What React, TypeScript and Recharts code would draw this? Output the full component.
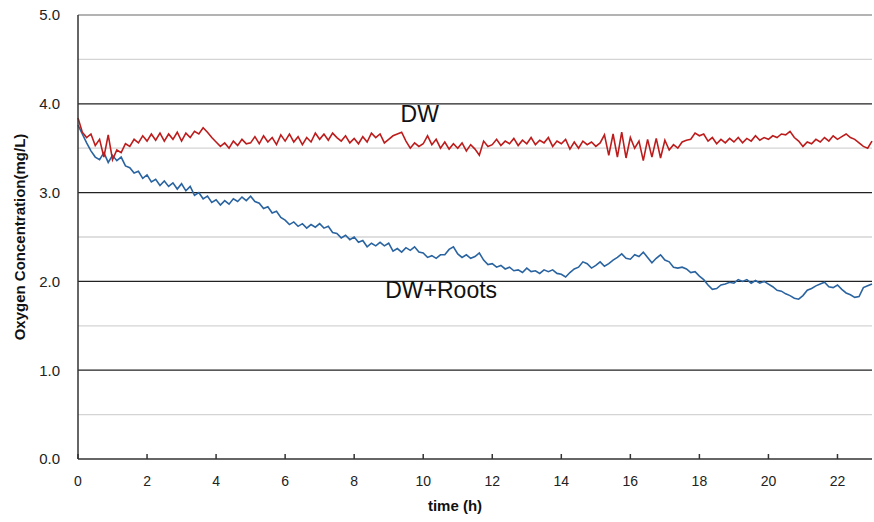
import { LineChart, Line, XAxis, YAxis, CartesianGrid, ReferenceDot, ReferenceLine, Label } from "recharts"

const STEP_H = 0.125

const DW = [
  3.84, 3.68, 3.62, 3.66, 3.53, 3.6, 3.4, 3.65,
  3.37, 3.48, 3.45, 3.55, 3.52, 3.6, 3.56, 3.64,
  3.58, 3.66, 3.59, 3.67, 3.58, 3.66, 3.6, 3.68,
  3.58, 3.67, 3.62, 3.69, 3.66, 3.73, 3.68, 3.62,
  3.57, 3.52, 3.56, 3.5, 3.58, 3.53, 3.6, 3.55,
  3.56, 3.63, 3.55, 3.64, 3.57, 3.62, 3.54, 3.65,
  3.58, 3.66, 3.57, 3.63, 3.54, 3.62, 3.57, 3.67,
  3.6, 3.66, 3.59, 3.67, 3.62, 3.58, 3.64, 3.56,
  3.61, 3.55, 3.63, 3.57, 3.67, 3.62, 3.66, 3.56,
  3.6, 3.64, 3.66, 3.68, 3.58, 3.5, 3.56, 3.52,
  3.55, 3.64, 3.54, 3.6, 3.5, 3.57, 3.49, 3.55,
  3.5, 3.56, 3.47, 3.54, 3.49, 3.42, 3.58, 3.52,
  3.54, 3.6, 3.53, 3.58, 3.55, 3.61, 3.53, 3.59,
  3.55, 3.62, 3.54, 3.59, 3.56, 3.62, 3.52, 3.58,
  3.55, 3.6, 3.49, 3.57, 3.5, 3.58, 3.54, 3.57,
  3.52, 3.56, 3.65, 3.42, 3.66, 3.4, 3.68, 3.39,
  3.62, 3.5, 3.58, 3.36, 3.6, 3.4, 3.61, 3.39,
  3.59, 3.48, 3.54, 3.5, 3.57, 3.59, 3.6, 3.67,
  3.64, 3.66, 3.58, 3.62, 3.55, 3.6, 3.56, 3.61,
  3.57, 3.62, 3.56, 3.61, 3.58, 3.64, 3.59, 3.62,
  3.6, 3.64, 3.62, 3.66, 3.65, 3.69, 3.62, 3.58,
  3.52, 3.57, 3.55, 3.6, 3.57, 3.62, 3.58, 3.64,
  3.6, 3.63, 3.66, 3.62, 3.6, 3.56, 3.52, 3.5,
  3.58,
]

const DW_ROOTS = [
  3.76, 3.66, 3.56, 3.47, 3.4, 3.37, 3.45, 3.34,
  3.42, 3.36, 3.4, 3.3, 3.28, 3.22, 3.24, 3.16,
  3.2, 3.12, 3.15, 3.08, 3.13, 3.07, 3.11, 3.04,
  3.1, 3.02, 3.07, 2.97, 3.0, 2.93, 2.96, 2.89,
  2.92, 2.86, 2.91, 2.87, 2.93, 2.9, 2.95, 2.91,
  2.96, 2.9, 2.88, 2.82, 2.84, 2.77, 2.79, 2.72,
  2.69, 2.64, 2.67, 2.62, 2.65, 2.6, 2.64, 2.61,
  2.65, 2.6, 2.62, 2.55, 2.54, 2.49, 2.52, 2.47,
  2.5, 2.44, 2.46, 2.39, 2.43, 2.4, 2.44, 2.4,
  2.43, 2.34, 2.37, 2.33, 2.38, 2.35, 2.39, 2.33,
  2.32, 2.27, 2.29, 2.26, 2.3, 2.3, 2.36, 2.39,
  2.31, 2.27, 2.3, 2.26, 2.28, 2.32, 2.24, 2.19,
  2.2, 2.16, 2.18, 2.14, 2.16, 2.12, 2.13, 2.1,
  2.15, 2.11, 2.12, 2.09, 2.13, 2.11, 2.13, 2.09,
  2.08, 2.05, 2.1, 2.14, 2.16, 2.22, 2.2, 2.15,
  2.18, 2.22, 2.17, 2.2, 2.24, 2.27, 2.31, 2.26,
  2.25, 2.3, 2.28, 2.33, 2.27, 2.21, 2.26, 2.3,
  2.24, 2.22, 2.16, 2.15, 2.16, 2.14, 2.1, 2.11,
  2.06, 2.02, 1.96, 1.91, 1.92, 1.96, 1.97, 1.99,
  1.98, 2.02, 2.0, 2.02, 1.98, 2.01, 1.98, 2.0,
  1.97, 1.94, 1.9, 1.89, 1.86, 1.84, 1.81, 1.8,
  1.84, 1.9, 1.92, 1.95, 1.97, 1.99, 1.94, 1.93,
  1.96, 1.91, 1.87, 1.85, 1.82, 1.83, 1.93, 1.95,
  1.97,
]

const X_TICKS = [0, 2, 4, 6, 8, 10, 12, 14, 16, 18, 20, 22]
const Y_TICKS = [0, 1, 2, 3, 4, 5]
const MAJOR_GRID = [1, 2, 3, 4]
const MINOR_GRID = [0.5, 1.5, 2.5, 3.5, 4.5]
const TOP_GRID = [5]

const FONT = "'Liberation Sans', Arial, sans-serif"

export default function App() {
  const data = DW.map((v, i) => ({ t: i * STEP_H, dw: v, roots: DW_ROOTS[i] }))

  return (
    <div style={{ position: "absolute", left: 0, top: 0, width: 874, height: 522, background: "#fff", fontFamily: FONT }}>
      <LineChart width={874} height={522} data={data} margin={{ top: 15, right: 2, left: 0, bottom: 8 }}>
        <CartesianGrid vertical={false} horizontalValues={TOP_GRID} stroke="#9a9a9a" strokeWidth={1.3} />
        <CartesianGrid vertical={false} horizontalValues={MAJOR_GRID} stroke="#222" strokeWidth={1.3} />
        {MINOR_GRID.map((v) => (
          <ReferenceLine key={v} y={v} stroke="#d4d4d4" strokeWidth={1.3} />
        ))}
        <XAxis
          dataKey="t"
          type="number"
          domain={[0, 23]}
          ticks={X_TICKS}
          height={55}
          stroke="#333"
          strokeWidth={1.5}
          tickSize={-5}
          tickMargin={22}
          tick={{ fill: "#222", fontSize: 14, fontFamily: FONT }}
        >
          <Label value="time (h)" position="insideBottom" offset={3} dx={-20} style={{ fontWeight: "bold", fontSize: 15, fill: "#111", fontFamily: FONT }} />
        </XAxis>
        <YAxis
          type="number"
          domain={[0, 5]}
          ticks={Y_TICKS}
          width={78}
          stroke="#333"
          strokeWidth={1.5}
          tickLine={false}
          tickSize={0}
          tickMargin={18}
          tickFormatter={(v: number) => v.toFixed(1)}
          tick={{ fill: "#222", fontSize: 15, fontFamily: FONT }}
        >
          <Label
            value="Oxygen Concentration(mg/L)"
            angle={-90}
            position="insideLeft"
            offset={20}
            style={{ textAnchor: "middle", fontWeight: "bold", fontSize: 15, fill: "#111", fontFamily: FONT }}
          />
        </YAxis>
        <Line type="linear" dataKey="roots" stroke="#2a64a0" strokeWidth={1.6} dot={false} isAnimationActive={false} />
        <Line type="linear" dataKey="dw" stroke="#bd1c1c" strokeWidth={1.6} dot={false} isAnimationActive={false} />
        <ReferenceDot x={9.9} y={3.885} r={0} fill="none" stroke="none">
          <Label value="DW" position="center" style={{ fontSize: 23, fill: "#111", fontFamily: FONT }} />
        </ReferenceDot>
        <ReferenceDot x={10.52} y={1.9} r={0} fill="none" stroke="none">
          <Label value="DW+Roots" position="center" style={{ fontSize: 23, fill: "#111", fontFamily: FONT }} />
        </ReferenceDot>
      </LineChart>
    </div>
  )
}
